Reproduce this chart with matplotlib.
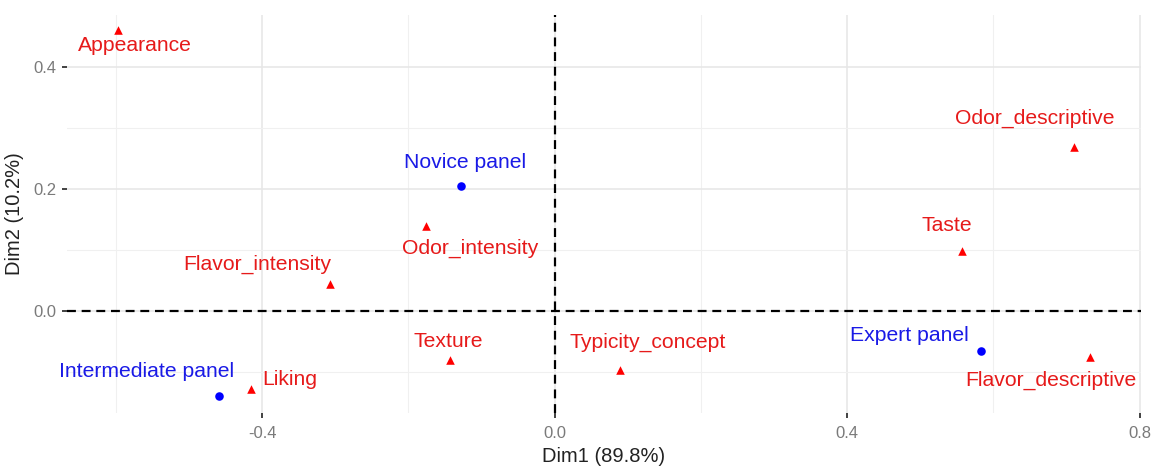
import matplotlib
matplotlib.use("Agg")
import matplotlib.pyplot as plt

plt.rcParams["font.family"] = ["Liberation Sans", "DejaVu Sans"]

# linhas (paineis) e colunas (atributos) do mapa
paineis = ["Novice panel", "Expert panel", "Intermediate panel"]
paineis_dim1 = [-0.128, 0.583, -0.459]
paineis_dim2 = [0.205, -0.066, -0.139]

atributos = ["Appearance", "Odor_descriptive", "Odor_intensity", "Taste",
             "Flavor_intensity", "Texture", "Typicity_concept",
             "Flavor_descriptive", "Liking"]
atributos_dim1 = [-0.597, 0.710, -0.176, 0.557, -0.307, -0.143, 0.089, 0.732, -0.416]
atributos_dim2 = [0.461, 0.269, 0.139, 0.098, 0.044, -0.080, -0.097, -0.075, -0.128]

# deslocamento dos rotulos (pixels), imitando o ggrepel
desloc_paineis = [(4, 23), (-72, 16), (-73, 24)]
desloc_atributos = [(17, -16), (-39, 29), (44, -22), (-15, 26), (-73, 20),
                    (-2, 18), (28, 28), (-39, -24), (39, 10)]

fig = plt.figure(figsize=(11.52, 4.72), dpi=100)
ax = fig.add_axes([0.0582, 0.125, 0.9323, 0.843])
ax.set_xlim(-0.667, 0.802)
ax.set_ylim(-0.167, 0.485)

# grade estilo theme_minimal
for s in ax.spines.values():
    s.set_visible(False)
ax.set_xticks([-0.4, 0.0, 0.4, 0.8])
ax.set_xticklabels(["-0.4", "0.0", "0.4", "0.8"])
ax.set_yticks([0.0, 0.2, 0.4])
ax.set_yticklabels(["0.0", "0.2", "0.4"])
ax.set_xticks([-0.6, -0.2, 0.2, 0.6], minor=True)
ax.set_yticks([-0.1, 0.1, 0.3], minor=True)
ax.grid(True, which="major", color="#e6e6e6", linewidth=1.1)
ax.grid(True, which="minor", color="#f0f0f0", linewidth=0.8)
ax.set_axisbelow(True)
ax.tick_params(which="major", length=3.5, width=1.3, color="#333333",
               labelsize=12, labelcolor="#7a7a7a", pad=4)
ax.tick_params(axis="x", which="major", pad=6)
ax.tick_params(which="minor", length=0)

ax.axhline(0, color="black", linestyle=(0, (4, 2.6)), linewidth=1.6, zorder=2)
ax.axvline(0, color="black", linestyle=(0, (4, 2.6)), linewidth=1.6, zorder=2)

ax.scatter(paineis_dim1, paineis_dim2, marker="o", s=38, color="blue",
           linewidths=0, zorder=3)
ax.scatter(atributos_dim1, atributos_dim2, marker="^", s=38, color="red",
           linewidths=0, zorder=3)

for nome, x, y, d in zip(paineis, paineis_dim1, paineis_dim2, desloc_paineis):
    ax.annotate(nome, (x, y), xytext=d, textcoords="offset pixels",
                ha="center", va="center", fontsize=15.2, color="#1a1ae6")
for nome, x, y, d in zip(atributos, atributos_dim1, atributos_dim2, desloc_atributos):
    ax.annotate(nome, (x, y), xytext=d, textcoords="offset pixels",
                ha="center", va="center", fontsize=15.2, color="#e61a1a")

ax.set_xlabel("Dim1 (89.8%)", fontsize=14.5, color="#222222", labelpad=4)
ax.set_ylabel("Dim2 (10.2%)", fontsize=14.5, color="#222222", labelpad=7)

fig.savefig("out.png", dpi=100, facecolor="white")
